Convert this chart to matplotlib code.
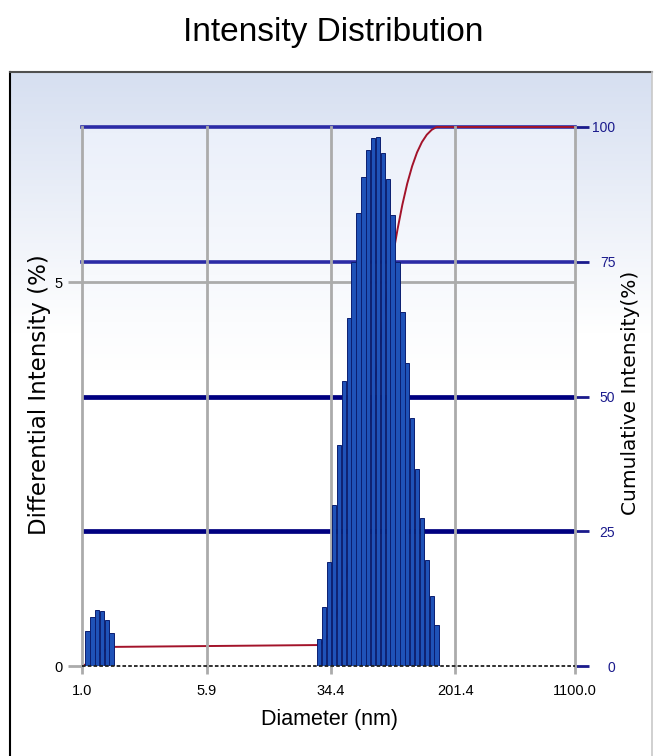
import matplotlib.pyplot as plt
import numpy as np
from matplotlib.lines import Line2D

# size classes (nm) and their intensity (%)
diameters = [1.08, 1.16, 1.24, 1.33, 1.42, 1.52,
             29.1, 31.2, 33.5, 35.9, 38.5, 41.2, 44.2, 47.3, 50.7, 54.4,
             58.3, 62.5, 67.0, 71.8, 76.9, 82.4, 88.4, 94.7, 101.5, 108.8,
             116.6, 125.0, 134.0, 143.6, 153.9]
intensity = [0.45, 0.64, 0.73, 0.71, 0.60, 0.43,
             0.35, 0.77, 1.35, 2.10, 2.88, 3.71, 4.53, 5.26, 5.90, 6.37,
             6.72, 6.88, 6.89, 6.68, 6.34, 5.87, 5.26, 4.61, 3.95, 3.23,
             2.56, 1.93, 1.38, 0.91, 0.53]
xticks = [1.0, 5.9, 34.4, 201.4, 1100.0]
left_ticks = [0, 5]
right_ticks = [0, 25, 50, 75, 100]

narrow = ['Liberation Sans', 'DejaVu Sans']
plain = ['DejaVu Sans']

W, H = 655, 756
fig = plt.figure(figsize=(W / 100, H / 100), dpi=100)
fig.patch.set_facecolor('white')

# panel background with light blue gradient at the top
bg = fig.add_axes([10 / W, 0, 642 / W, 1 - 72 / H])
bg.set_zorder(-2)
g = np.clip(np.linspace(0, 1, 300) / 0.38, 0, 1)
top = np.array([0.84, 0.875, 0.945])
grad = top[None, :] * (1 - g[:, None]) + np.ones(3)[None, :] * g[:, None]
bg.imshow(grad[:, None, :], aspect='auto', extent=[0, 1, 0, 1])
bg.axis('off')

fig.add_artist(Line2D([10 / W, 10 / W], [0, 1 - 72 / H], color='black', lw=1.5))
fig.add_artist(Line2D([10 / W, 652 / W], [1 - 72 / H, 1 - 72 / H], color='#505050', lw=1.5))
fig.add_artist(Line2D([652 / W, 652 / W], [0, 1 - 72 / H], color='#C8C8C8', lw=1.2))

pos = [82 / W, 1 - 666 / H, (575 - 82) / W, (666 - 127) / H]
ax = fig.add_axes(pos)
ax2 = ax.twinx()
ax.set_zorder(ax2.get_zorder() + 1)
ax.patch.set_visible(False)
ax2.patch.set_visible(False)

# inner plot gradient
g2 = np.clip(np.linspace(0, 1, 300) / 0.45, 0, 1)
top2 = np.array([0.92, 0.94, 0.98])
grad2 = top2[None, :] * (1 - g2[:, None]) + np.ones(3)[None, :] * g2[:, None]
ax2.imshow(grad2[:, None, :], aspect='auto', extent=[0, 1, 0, 1],
           transform=ax2.transAxes, zorder=0)

# bars
d = np.array(diameters)
r = 1.072
left = d / np.sqrt(r) * 1.004
right = d * np.sqrt(r) / 1.004
ax.bar(left, intensity, width=right - left, align='edge', color='#1F52B8',
       edgecolor='#0B1E70', linewidth=0.7, zorder=3)

ax.set_xscale('log')
ax.set_xlim(1.0, 1100.0)
ax.set_ylim(0, 7.02)
ax2.set_ylim(0, 100)

# grid lines
for x in xticks:
    ax.axvline(x, color='#ABABAB', lw=2, zorder=1, clip_on=False)
ax.axhline(5, color='#ABABAB', lw=2, zorder=1)
ax.axhline(0, color='#202020', lw=1.3, ls=(0, (2, 1.2)), zorder=4, clip_on=False)
for v in [100, 75]:
    ax2.axhline(v, color='#2B2BA6', lw=2.6, zorder=1, clip_on=False)
for v in [50, 25]:
    ax2.axhline(v, color='#000080', lw=3.4, zorder=1)

# cumulative curve
cum = np.cumsum(intensity)
cum = cum / cum[-1] * 100
cx = np.concatenate([[1.0], d, [1100.0]])
cy = np.concatenate([[0], cum, [100]])
ax2.plot(cx, cy, color='#A3132A', lw=1.4, zorder=2, clip_on=False)

for s in list(ax.spines.values()) + list(ax2.spines.values()):
    s.set_visible(False)

ax.set_xticks(xticks)
ax.set_xticklabels(['%.1f' % x for x in xticks], family=narrow, fontsize=10.5)
ax.minorticks_off()
ax.tick_params(axis='x', length=6, width=2, color='#ABABAB', pad=7)
ax.set_yticks(left_ticks)
ax.set_yticklabels([str(v) for v in left_ticks], family=narrow, fontsize=10.5)
ax.tick_params(axis='y', length=10, width=2, color='#ABABAB', pad=4)
ax2.set_yticks(right_ticks)
ax2.set_yticklabels([str(v) for v in right_ticks], family=narrow, fontsize=10,
                    color='#1A1A8C', ha='right')
ax2.tick_params(axis='y', length=10, width=2, color='#1A1A8C', pad=19)

fig.text(333 / W, 1 - 33 / H, 'Intensity Distribution', family=narrow,
         fontsize=24, ha='center', va='center')
fig.text(330 / W, 1 - 719 / H, 'Diameter (nm)', family=narrow,
         fontsize=15.5, ha='center', va='center')
fig.text(40 / W, 1 - 395 / H, 'Differential Intensity (%)', family=plain,
         fontsize=16.5, rotation=90, ha='center', va='center')
fig.text(630 / W, 1 - 393 / H, 'Cumulative Intensity(%)', family=plain,
         fontsize=14.5, rotation=90, ha='center', va='center')

fig.savefig('out.png', dpi=100)
